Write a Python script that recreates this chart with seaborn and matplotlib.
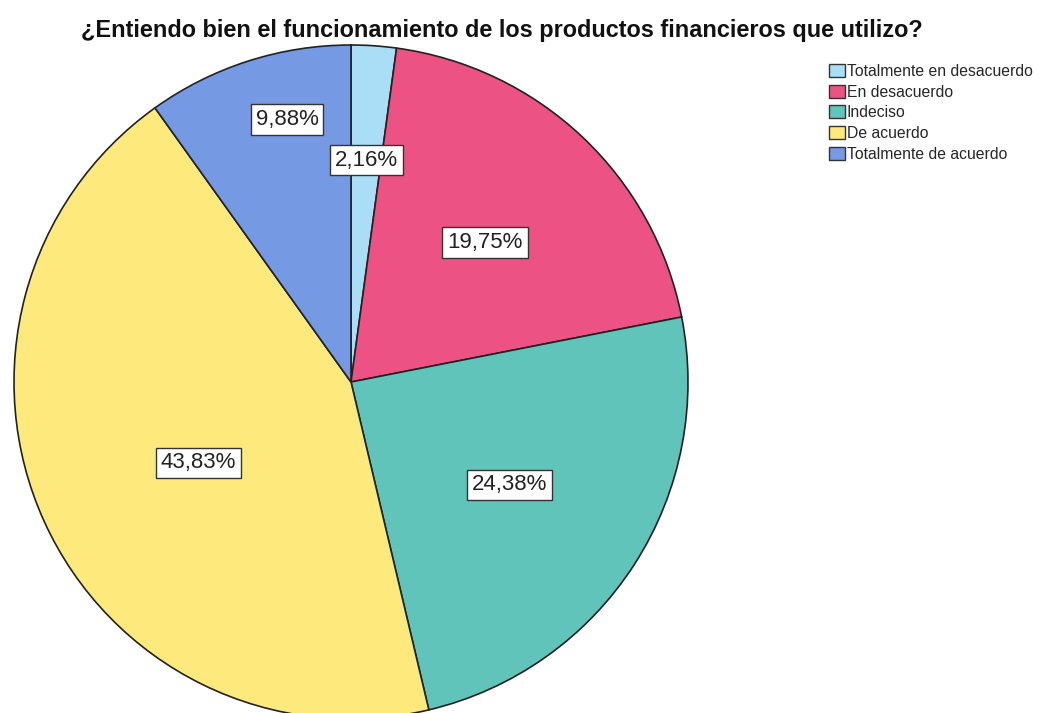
import matplotlib
matplotlib.use("Agg")
import matplotlib.pyplot as plt
import seaborn as sns
import numpy as np

categories = ["Totalmente en desacuerdo", "En desacuerdo", "Indeciso", "De acuerdo", "Totalmente de acuerdo"]
values = [2.16, 19.75, 24.38, 43.83, 9.88]
labels = ["2,16%", "19,75%", "24,38%", "43,83%", "9,88%"]
title = "¿Entiendo bien el funcionamiento de los productos financieros que utilizo?"

colors = ["#a9def6", "#ec5283", "#60c4ba", "#fee97c", "#7599e3"]
label_radius = [0.660, 0.574, 0.560, 0.512, 0.802]
label_angle_shift = [0.0, -0.5, -0.3, 3.5, -4.1]  # degrees, counter-clockwise

sns.set_theme(style="white")
plt.rcParams['font.family'] = ['Liberation Sans', 'DejaVu Sans']

W, H = 1039, 713
fig = plt.figure(figsize=(W / 100, H / 100), dpi=100)
cx, cy, r = 351, 382, 337
ax = fig.add_axes([(cx - r) / W, (H - cy - r) / H, 2 * r / W, 2 * r / H])

wedges, _ = ax.pie(values, colors=colors, startangle=90, counterclock=False,
                   radius=1.0, wedgeprops=dict(edgecolor="#222222", linewidth=1.2))
ax.set_xlim(-1, 1)
ax.set_ylim(-1, 1)
ax.set_aspect('equal')
ax.axis('off')
for w in wedges:
    w.set_clip_on(False)

for w, lab, d, s in zip(wedges, labels, label_radius, label_angle_shift):
    ang = np.deg2rad((w.theta1 + w.theta2) / 2 + s)
    x, y = d * np.cos(ang), d * np.sin(ang)
    ax.text(x, y, lab, ha='center', va='center', fontsize=16, color='#222222',
            bbox=dict(boxstyle='square,pad=0.22', facecolor='white', edgecolor='#333333', linewidth=1.0))

fig.text(502 / W, 1 - 30 / H, title, ha='center', va='center', fontsize=16.9,
         fontweight='bold', color='#111111')

handles = [plt.Rectangle((0, 0), 1, 1, facecolor=c, edgecolor='#333333', linewidth=1.0) for c in colors]
fig.legend(handles, categories, loc='upper left', bbox_to_anchor=(829 / W, 1 - 64 / H),
           frameon=False, fontsize=11.3, handlelength=1.0, handleheight=0.9,
           handletextpad=0.12, labelspacing=0.36, borderaxespad=0, borderpad=0)

fig.savefig("out.png", dpi=100)
